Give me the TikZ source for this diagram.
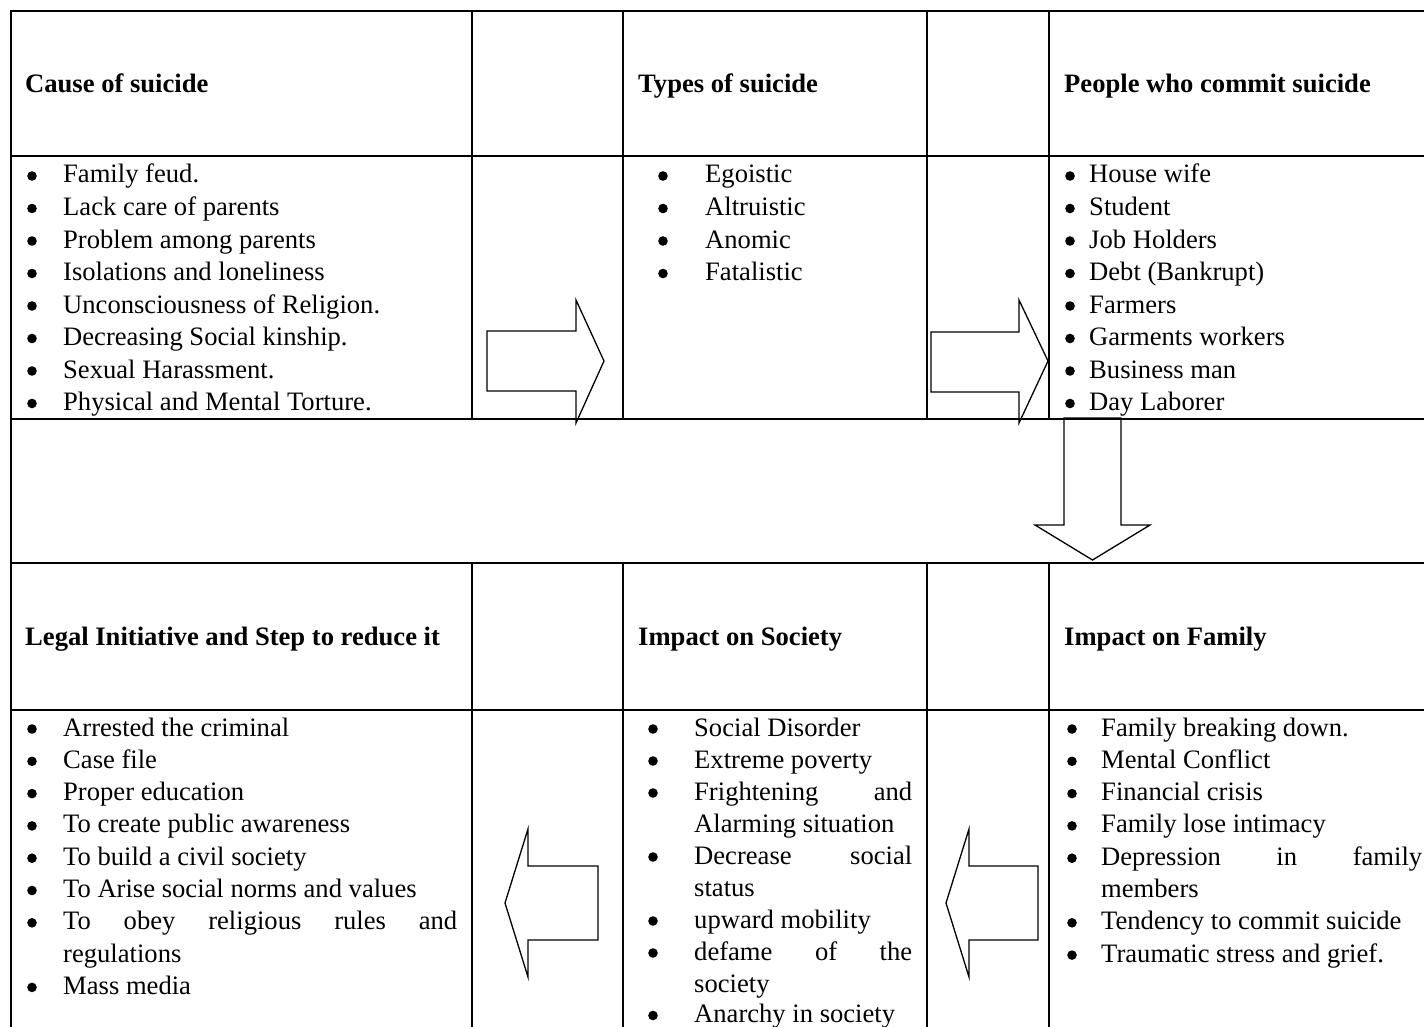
\documentclass[tikz,border=0pt]{standalone}
\usepackage{fontspec}
\setmainfont{Liberation Serif}
\tikzset{
  grid/.style={line width=1.8pt, line cap=rect},
  blockarrow/.style={line width=1.3pt, line join=miter},
  hdr/.style={anchor=base west, inner sep=0pt, font=\fontsize{26.6}{32.4}\selectfont\bfseries},
  txt/.style={anchor=base west, inner sep=0pt, font=\fontsize{26.6}{32.4}\selectfont},
  bul/.style={circle, fill=black, inner sep=0pt, minimum size=9.6pt},
}
% #1 name, #2 bullet centre x, #3 text x, #4 baseline y, #5 text
\newcommand\bitem[5]{%
  \node[bul] (#1b) at (#2,{#4-7}) {};
  \node[txt] (#1) at (#3,#4) {#5};}
\begin{document}
\begin{tikzpicture}[x=1pt,y=-1pt]
\useasboundingbox (0,0) rectangle (1424,1027);
% table lines
\draw[grid] (11,11) -- (1424,11);
\draw[grid] (11,156) -- (1424,156);
\draw[grid] (11,419) -- (1424,419);
\draw[grid] (11,563) -- (1424,563);
\draw[grid] (11,710) -- (1424,710);
\draw[grid] (11,11) -- (11,1027);
\foreach \x in {472,623,927,1049}{
  \draw[grid] (\x,11) -- (\x,419);
  \draw[grid] (\x,563) -- (\x,1027);
}
% block arrows
\draw[blockarrow] (487,331) -- (576,331) -- (576,300) -- (604,361) -- (576,423) -- (576,391) -- (487,391) -- cycle;
\draw[blockarrow] (931,332) -- (1019,332) -- (1019,300) -- (1048,361) -- (1019,423) -- (1019,392) -- (931,392) -- cycle;
\draw[blockarrow] (1064,418) -- (1121,418) -- (1121,525) -- (1150,525) -- (1092.5,560) -- (1035,525) -- (1064,525) -- cycle;
\draw[blockarrow] (598,866) -- (528,866) -- (528,829) -- (505,903) -- (528,977) -- (528,940) -- (598,940) -- cycle;
\draw[blockarrow] (1038,866) -- (969,866) -- (969,829) -- (946,903) -- (969,977) -- (969,940) -- (1038,940) -- cycle;
% headers
\node[hdr] (h1) at (25,92.7) {Cause of suicide};
\node[hdr] (h2) at (638,92.7) {Types of suicide};
\node[hdr] (h3) at (1064,92.7) {People who commit suicide};
\node[hdr] (h4) at (25,645.7) {Legal Initiative and Step to reduce it};
\node[hdr] (h5) at (638,645.7) {Impact on Society};
\node[hdr] (h6) at (1064,645.7) {Impact on Family};
% Cause of suicide
\bitem{ca}{32}{63}{183}{Family feud.}
\bitem{cb}{32}{63}{215.5}{Lack care of parents}
\bitem{cc}{32}{63}{248}{Problem among parents}
\bitem{cd}{32}{63}{280.5}{Isolations and loneliness}
\bitem{ce}{32}{63}{313}{Unconsciousness of Religion.}
\bitem{cf}{32}{63}{345.5}{Decreasing Social kinship.}
\bitem{cg}{32}{63}{378}{Sexual Harassment.}
\bitem{ch}{32}{63}{410.5}{Physical and Mental Torture.}
% Types of suicide
\bitem{ta}{663}{705}{183}{Egoistic}
\bitem{tb}{663}{705}{215.5}{Altruistic}
\bitem{tc}{663}{705}{248}{Anomic}
\bitem{td}{663}{705}{280.5}{Fatalistic}
% People who commit suicide
\bitem{pa}{1070}{1089}{183}{House wife}
\bitem{pb}{1070}{1089}{215.5}{Student}
\bitem{pc}{1070}{1089}{248}{Job Holders}
\bitem{pd}{1070}{1089}{280.5}{Debt (Bankrupt)}
\bitem{pe}{1070}{1089}{313}{Farmers}
\bitem{pf}{1070}{1089}{345.5}{Garments workers}
\bitem{pg}{1070}{1089}{378}{Business man}
\bitem{ph}{1070}{1089}{410.5}{Day Laborer}
% Legal initiative
\bitem{la}{32}{63}{736}{Arrested the criminal}
\bitem{lb}{32}{63}{768.3}{Case file}
\bitem{lc}{32}{63}{800.6}{Proper education}
\bitem{ld}{32}{63}{832.9}{To create public awareness}
\bitem{le}{32}{63}{865.2}{To build a civil society}
\bitem{lf}{32}{63}{897.5}{To Arise social norms and values}
\bitem{lg}{32}{63}{929.8}{\makebox[394pt][s]{To obey religious rules and}}
\node[txt] (lg2) at (63,962.1) {regulations};
\bitem{lh}{32}{63}{994.4}{Mass media}
% Impact on society
\bitem{sa}{653}{694}{736}{Social Disorder}
\bitem{sb}{653}{694}{768}{Extreme poverty}
\bitem{sc}{653}{694}{800}{\makebox[218pt][s]{Frightening and}}
\node[txt] (sc2) at (694,832) {Alarming situation};
\bitem{sd}{653}{694}{864}{\makebox[218pt][s]{Decrease social}}
\node[txt] (sd2) at (694,896) {status};
\bitem{se}{653}{694}{928}{upward mobility}
\bitem{sf}{653}{694}{960}{\makebox[218pt][s]{defame of the}}
\node[txt] (sf2) at (694,992) {society};
\bitem{sg}{653}{694}{1022.5}{Anarchy in society}
% Impact on family
\bitem{fa}{1072}{1101}{736}{Family breaking down.}
\bitem{fb}{1072}{1101}{768.3}{Mental Conflict}
\bitem{fc}{1072}{1101}{800.6}{Financial crisis}
\bitem{fd}{1072}{1101}{832.9}{Family lose intimacy}
\bitem{fe}{1072}{1101}{865.2}{\makebox[321pt][s]{Depression in family}}
\node[txt] (fe2) at (1101,897.5) {members};
\bitem{ff}{1072}{1101}{929.8}{Tendency to commit suicide}
\bitem{fg}{1072}{1101}{962.1}{Traumatic stress and grief.}
\end{tikzpicture}
\end{document}
